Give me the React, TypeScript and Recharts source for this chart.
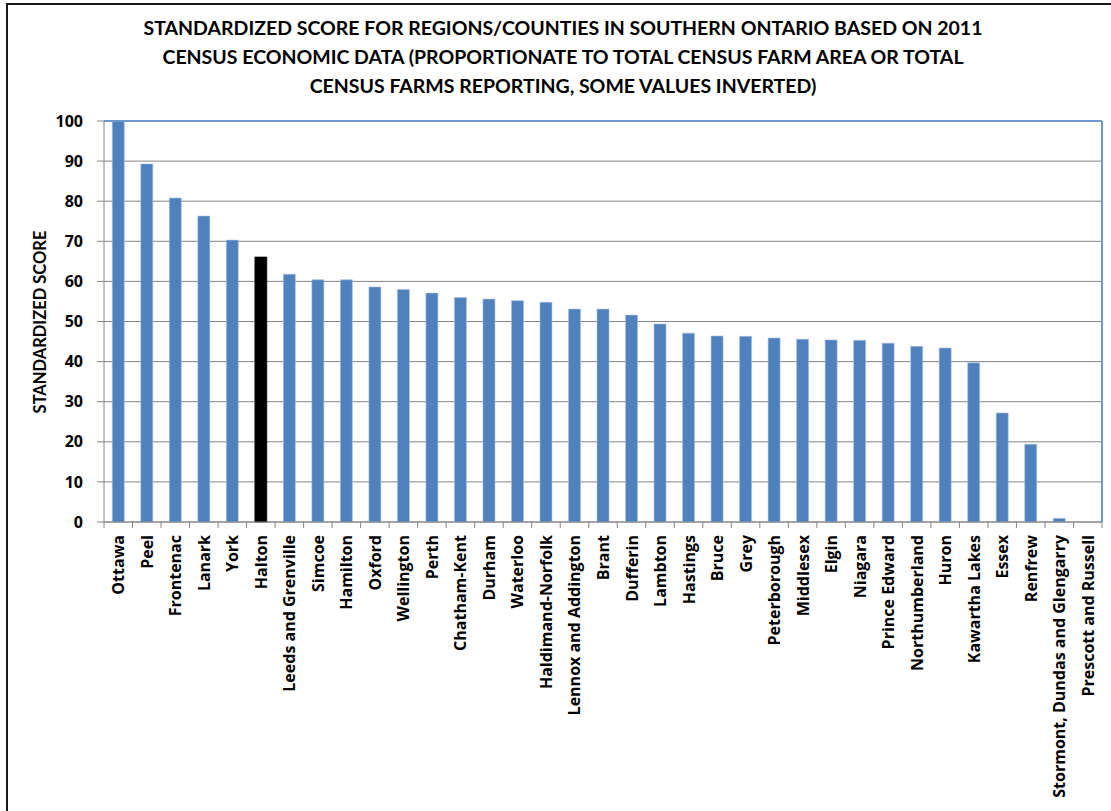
import React from "react";
import { BarChart, Bar, XAxis, YAxis, CartesianGrid, Cell, ReferenceLine } from "recharts";

const categories = [
  "Ottawa", "Peel", "Frontenac", "Lanark", "York", "Halton", "Leeds and Grenville", "Simcoe",
  "Hamilton", "Oxford", "Wellington", "Perth", "Chatham-Kent", "Durham", "Waterloo",
  "Haldimand-Norfolk", "Lennox and Addington", "Brant", "Dufferin", "Lambton", "Hastings",
  "Bruce", "Grey", "Peterborough", "Middlesex", "Elgin", "Niagara", "Prince Edward",
  "Northumberland", "Huron", "Kawartha Lakes", "Essex", "Renfrew",
  "Stormont, Dundas and Glengarry", "Prescott and Russell",
];

const scores = [
  100, 89.3, 80.8, 76.3, 70.3, 66.1, 61.8, 60.4, 60.4, 58.6, 58.0, 57.1, 56.0, 55.6, 55.2,
  54.8, 53.1, 53.1, 51.6, 49.4, 47.1, 46.4, 46.3, 45.9, 45.6, 45.4, 45.3, 44.6, 43.8, 43.4,
  39.7, 27.2, 19.4, 0.9, 0,
];

const yTicks = [0, 10, 20, 30, 40, 50, 60, 70, 80, 90, 100];

const titleLines = [
  "STANDARDIZED SCORE FOR REGIONS/COUNTIES IN SOUTHERN ONTARIO BASED ON 2011",
  "CENSUS ECONOMIC DATA (PROPORTIONATE TO TOTAL CENSUS FARM AREA OR TOTAL",
  "CENSUS FARMS REPORTING, SOME VALUES INVERTED)",
];

const yAxisTitle = "STANDARDIZED SCORE";
const highlighted = "Halton";

const data = categories.map((name, i) => ({ name, score: scores[i] }));

const FONT = "Lato, 'Liberation Sans', sans-serif";
const LABEL_FONT = "'Open Sans', 'DejaVu Sans', sans-serif";
const HALF_BAND = 998 / categories.length / 2;

const XTick = (props: any) => {
  const { x, payload, index } = props;
  const isLast = index === categories.length - 1;
  return (
    <g>
      <line x1={x - HALF_BAND} x2={x - HALF_BAND} y1={522} y2={528} stroke="#868686" />
      {isLast && <line x1={x + HALF_BAND} x2={x + HALF_BAND} y1={522} y2={528} stroke="#868686" />}
      <text
        x={0}
        y={0}
        transform={`translate(${x + 6},${535}) rotate(-90)`}
        textAnchor="end"
        fontFamily={LABEL_FONT}
        fontWeight="bold"
        fontSize={16}
        fill="#000"
      >
        {payload.value}
      </text>
    </g>
  );
};

export default function App() {
  return (
    <div
      style={{
        position: "absolute",
        left: 0,
        top: 0,
        width: 1111,
        height: 811,
        background: "#fff",
        fontFamily: FONT,
      }}
    >
      <div
        style={{
          position: "absolute",
          left: 6,
          top: 3,
          width: 1111,
          height: 811,
          borderLeft: "2px solid #1a1a1a",
          borderTop: "2px solid #1a1a1a",
        }}
      />
      {titleLines.map((t, i) => (
        <div
          key={i}
          style={{
            position: "absolute",
            left: 0,
            width: 1126,
            top: 14 + i * 29,
            textAlign: "center",
            fontWeight: "bold",
            fontSize: 19.5,
            lineHeight: "28px",
            color: "#000",
            whiteSpace: "nowrap",
          }}
        >
          {t}
        </div>
      ))}
      <div
        style={{
          position: "absolute",
          left: 40,
          top: 322,
          transform: "translate(-50%, -50%) rotate(-90deg)",
          fontWeight: "bold",
          fontSize: 16.5,
          whiteSpace: "nowrap",
          color: "#000",
        }}
      >
        {yAxisTitle}
      </div>
      <div style={{ position: "absolute", left: 0, top: 0 }}>
        <BarChart
          width={1111}
          height={811}
          data={data}
          margin={{ top: 121, right: 8, bottom: 0, left: 0 }}
          barCategoryGap="29%"
        >
          <CartesianGrid vertical={false} stroke="#858585" strokeWidth={1} />
          <XAxis
            dataKey="name"
            interval={0}
            height={289}
            tickLine={false}
            axisLine={{ stroke: "#868686" }}
            tick={<XTick />}
          />
          <YAxis
            domain={[0, 100]}
            ticks={yTicks}
            width={104}
            tickSize={7}
            tickMargin={14}
            axisLine={{ stroke: "#868686" }}
            tickLine={{ stroke: "#868686" }}
            tick={{ fontFamily: LABEL_FONT, fontWeight: "bold", fontSize: 16, fill: "#000" }}
          />
          <YAxis
            yAxisId="right"
            orientation="right"
            width={1}
            domain={[0, 100]}
            tick={false}
            tickLine={false}
            axisLine={{ stroke: "#6f98cc", strokeWidth: 2 }}
          />
          <ReferenceLine y={100} stroke="#6f98cc" strokeWidth={2} />
          <Bar dataKey="score" isAnimationActive={false} stroke="#a9c1e0" strokeWidth={0.6}>
            {data.map((d) => (
              <Cell key={d.name} fill={d.name === highlighted ? "#000000" : "#4F81BD"} stroke={d.name === highlighted ? "#000000" : "#a9c1e0"} />
            ))}
          </Bar>
        </BarChart>
      </div>
    </div>
  );
}
